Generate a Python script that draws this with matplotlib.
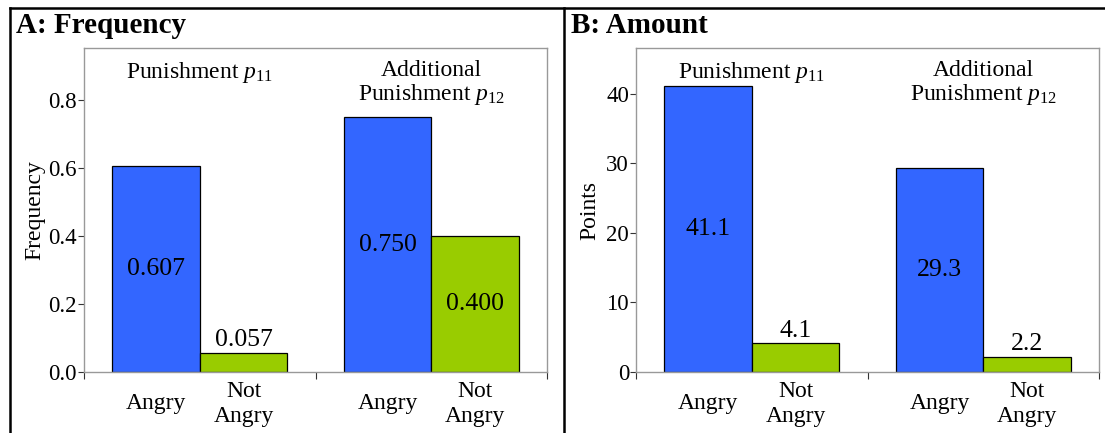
import matplotlib
matplotlib.use("Agg")
import matplotlib.pyplot as plt
from matplotlib.lines import Line2D
import matplotlib.transforms as mtransforms

plt.rcParams['font.family'] = ['Liberation Serif', 'DejaVu Serif']
plt.rcParams['mathtext.fontset'] = 'custom'
plt.rcParams['mathtext.rm'] = 'Liberation Serif'
plt.rcParams['mathtext.it'] = 'Liberation Serif:italic'

groups_A = [r"Punishment $p_{11}$", "Additional\n" + r"Punishment $p_{12}$"]
groups_B = [r"Punishment $p_{11}$", "Additional\n" + r"Punishment $p_{12}$"]
categories = ["Angry", "Not\nAngry"]
freq_angry = [0.607, 0.750]
freq_not = [0.057, 0.400]
freq_labels_angry = ["0.607", "0.750"]
freq_labels_not = ["0.057", "0.400"]
pts_angry = [41.1, 29.3]
pts_not = [4.1, 2.2]
pts_labels_angry = ["41.1", "29.3"]
pts_labels_not = ["4.1", "2.2"]
freq_ticks = [0.0, 0.2, 0.4, 0.6, 0.8]
freq_ticklabels = ["0.0", "0.2", "0.4", "0.6", "0.8"]
pts_ticks = [0, 10, 20, 30, 40]
pts_ticklabels = ["0", "10", "20", "30", "40"]

BLUE = "#3366FF"
GREEN = "#99CC00"
W = 0.378

fig = plt.figure(figsize=(11.05, 4.33), dpi=100)


def panel(rect, angry, notang, lab_a, lab_n, ticks, ticklabels, ymax, ylabel, groups, title, title_x, lpad):
    ax = fig.add_axes(rect)
    xa = [i + 0.5 - W / 2 for i in range(len(angry))]
    xn = [i + 0.5 + W / 2 for i in range(len(notang))]
    ax.bar(xa, angry, width=W, color=BLUE, edgecolor="black", linewidth=0.9, zorder=2)
    ax.bar(xn, notang, width=W, color=GREEN, edgecolor="black", linewidth=0.9, zorder=2)
    ax.set_xlim(0, len(angry))
    ax.set_ylim(0, ymax)
    for xs, vals, labs in ((xa, angry, lab_a), (xn, notang, lab_n)):
        for x, v, t in zip(xs, vals, labs):
            if v / ymax > 0.2:
                ax.text(x, v / 2, t, ha="center", va="center", fontsize=18.5)
            else:
                ax.annotate(t, (x, v), xytext=(0, 1), textcoords="offset points",
                            ha="center", va="bottom", fontsize=18.5)
    ax.set_yticks(ticks)
    ax.set_yticklabels(ticklabels, fontsize=16.5)
    ax.tick_params(axis="y", direction="out", length=4, width=0.8, pad=1, color="#333333")
    ax.set_xticks(range(len(angry) + 1))
    ax.set_xticklabels([])
    ax.tick_params(axis="x", which="major", direction="out", length=5, width=0.8, color="#333333")
    minor = xa + xn
    ax.set_xticks(minor, minor=True)
    ax.set_xticklabels([categories[0]] * len(xa) + [categories[1]] * len(xn), minor=True,
                       fontsize=17, linespacing=1.25)
    ax.tick_params(axis="x", which="minor", length=0, pad=23)
    for lbl in ax.get_xticklabels(minor=True):
        lbl.set_va("center")
    for s in ax.spines.values():
        s.set_color("#999999")
        s.set_linewidth(1.0)
    ax.set_ylabel(ylabel, fontsize=17, labelpad=lpad)
    for i, g in enumerate(groups):
        ax.text(i + 0.5, 0.962, g, transform=mtransforms.blended_transform_factory(ax.transData, ax.transAxes),
                ha="center", va="top", fontsize=17, linespacing=1.05)
    fig.text(title_x, 0.942, title, fontsize=21, fontweight="bold", ha="left", va="center")
    return ax


panel([84 / 1105, 1 - 372 / 433, 463 / 1105, 324 / 433], freq_angry, freq_not,
      freq_labels_angry, freq_labels_not, freq_ticks, freq_ticklabels, 0.953,
      "Frequency", groups_A, "A: Frequency", 16 / 1105, 2.5)
panel([636 / 1105, 1 - 372 / 433, 463 / 1105, 324 / 433], pts_angry, pts_not,
      pts_labels_angry, pts_labels_not, pts_ticks, pts_ticklabels, 46.6,
      "Points", groups_B, "B: Amount", 571 / 1105, 4.5)

# outer frame lines
fig.add_artist(Line2D([9.5 / 1105, 1.0], [1 - 8 / 433, 1 - 8 / 433], color="black", linewidth=1.8,
                      transform=fig.transFigure))
fig.add_artist(Line2D([9.5 / 1105, 9.5 / 1105], [0, 1 - 8 / 433], color="black", linewidth=1.8,
                      transform=fig.transFigure))
fig.add_artist(Line2D([564 / 1105, 564 / 1105], [0, 1 - 8 / 433], color="black", linewidth=1.8,
                      transform=fig.transFigure))

fig.savefig("out.png", dpi=100)
